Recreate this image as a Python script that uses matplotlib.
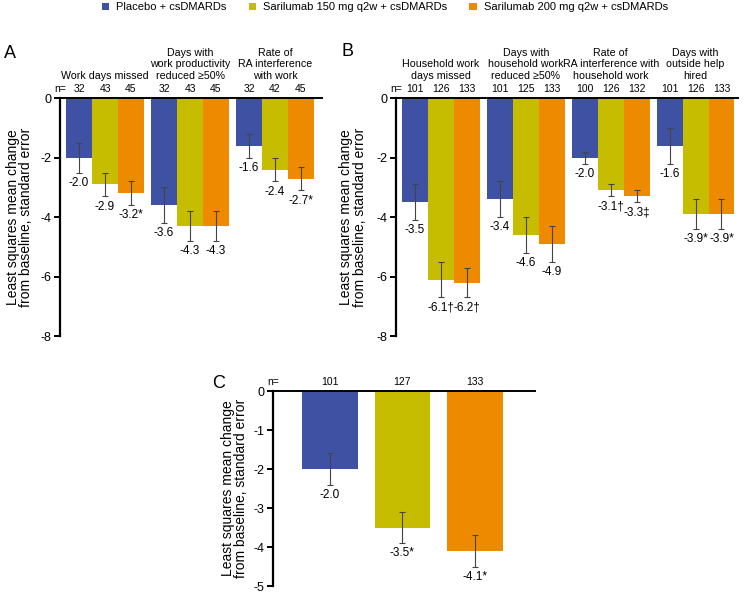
import numpy as np
import matplotlib.pyplot as plt
from matplotlib.patches import Patch

plt.rcParams['font.family'] = ['Liberation Sans', 'DejaVu Sans']

# legend / treatment arms
arms = ['Placebo + csDMARDs', 'Sarilumab 150 mg q2w + csDMARDs', 'Sarilumab 200 mg q2w + csDMARDs']
colors = ['#3f51a3', '#c6bd00', '#ee8a00']

# Panel A - work outside the home
a_titles = ['Work days missed', 'Days with\nwork productivity\nreduced ≥50%', 'Rate of\nRA interference\nwith work']
a_n = [[32, 43, 45], [32, 43, 45], [32, 42, 45]]
a_means = [[-2.0, -2.9, -3.2], [-3.6, -4.3, -4.3], [-1.6, -2.4, -2.7]]
a_se = [[0.5, 0.4, 0.4], [0.6, 0.5, 0.5], [0.4, 0.4, 0.4]]
a_marks = [['', '', '*'], ['', '', ''], ['', '', '*']]

# Panel B - household work
b_titles = ['Household work\ndays missed', 'Days with\nhousehold work\nreduced ≥50%',
            'Rate of\nRA interference with\nhousehold work', 'Days with\noutside help\nhired']
b_n = [[101, 126, 133], [101, 125, 133], [100, 126, 132], [101, 126, 133]]
b_means = [[-3.5, -6.1, -6.2], [-3.4, -4.6, -4.9], [-2.0, -3.1, -3.3], [-1.6, -3.9, -3.9]]
b_se = [[0.6, 0.6, 0.5], [0.6, 0.6, 0.6], [0.2, 0.2, 0.2], [0.6, 0.5, 0.5]]
b_marks = [['', '†', '†'], ['', '', ''], ['', '†', '‡'], ['', '*', '*']]

# Panel C
c_n = [101, 127, 133]
c_means = [-2.0, -3.5, -4.1]
c_se = [0.4, 0.4, 0.4]
c_marks = ['', '*', '*']

ylab = 'Least squares mean change\nfrom baseline, standard error'


def style_axis(ax, ylim, yticks):
    ax.set_ylim(*ylim)
    ax.set_yticks(yticks)
    ax.set_yticklabels([f'{t:g}' for t in yticks])
    ax.spines['right'].set_visible(False)
    ax.spines['bottom'].set_visible(False)
    ax.spines['left'].set_linewidth(1.6)
    ax.spines['top'].set_linewidth(1.4)
    ax.tick_params(axis='y', length=4, width=1.4, labelsize=9, pad=2)
    ax.set_xticks([])
    ax.set_ylabel(ylab, fontsize=10, linespacing=0.95)


def draw_bar(ax, x, w, m, s, color, n, mark):
    ax.bar(x, m, width=w, color=color, edgecolor='none')
    ax.errorbar(x, m, yerr=s, fmt='none', ecolor='#444444', elinewidth=0.8, capsize=2, capthick=0.8)
    ax.annotate(f'{m:.1f}{mark}', (x, m - s), xytext=(0, -3), textcoords='offset points',
                ha='center', va='top', fontsize=8.5)
    ax.annotate(str(n), (x, 1), xycoords=('data', 'axes fraction'), xytext=(0, 3),
                textcoords='offset points', ha='center', va='bottom', fontsize=7.5)


def grouped_panel(ax, titles, n, means, se, marks, xmax):
    w = 0.305
    for g in range(len(titles)):
        for k in range(3):
            draw_bar(ax, g + (k - 1) * w, w, means[g][k], se[g][k], colors[k], n[g][k], marks[g][k])
        ax.annotate(titles[g], (g, 1), xycoords=('data', 'axes fraction'), xytext=(0, 12.5),
                    textcoords='offset points', ha='center', va='bottom', fontsize=7.7, linespacing=1.2)
    ax.annotate('n=', (0.0, 1), xycoords='axes fraction', xytext=(0, 3), textcoords='offset points',
                ha='center', va='bottom', fontsize=7.5)
    ax.set_xlim(-0.53, xmax)
    style_axis(ax, (-8, 0), [0, -2, -4, -6, -8])


fig = plt.figure(figsize=(7.5, 6.1), dpi=100)

axA = fig.add_axes([0.080, 0.449, 0.349, 0.390])
grouped_panel(axA, a_titles, a_n, a_means, a_se, a_marks, 2.55)
axA.yaxis.set_label_coords(-0.103, 0.5)

axB = fig.add_axes([0.528, 0.449, 0.456, 0.390])
grouped_panel(axB, b_titles, b_n, b_means, b_se, b_marks, 3.5)
axB.yaxis.set_label_coords(-0.085, 0.5)

axC = fig.add_axes([0.364, 0.039, 0.349, 0.320])
for k in range(3):
    draw_bar(axC, k, 0.77, c_means[k], c_se[k], colors[k], c_n[k], c_marks[k])
axC.annotate('n=', (0.0, 1), xycoords='axes fraction', xytext=(0, 3), textcoords='offset points',
             ha='center', va='bottom', fontsize=7.5)
axC.set_xlim(-0.79, 2.83)
style_axis(axC, (-5, 0), [0, -1, -2, -3, -4, -5])
axC.yaxis.set_label_coords(-0.095, 0.5)

fig.text(0.013, 0.913, 'A', fontsize=13, ha='center', va='center')
fig.text(0.463, 0.916, 'B', fontsize=13, ha='center', va='center')
fig.text(0.291, 0.372, 'C', fontsize=13, ha='center', va='center')

handles = [Patch(facecolor=c, edgecolor='none') for c in colors]
fig.legend(handles, arms, loc='center', bbox_to_anchor=(0.513, 0.988), ncol=3, frameon=False,
           handlelength=0.7, handleheight=0.7, handletextpad=0.6, columnspacing=2.0, fontsize=8,
           borderpad=0.1)

fig.savefig('out.png', dpi=100)
